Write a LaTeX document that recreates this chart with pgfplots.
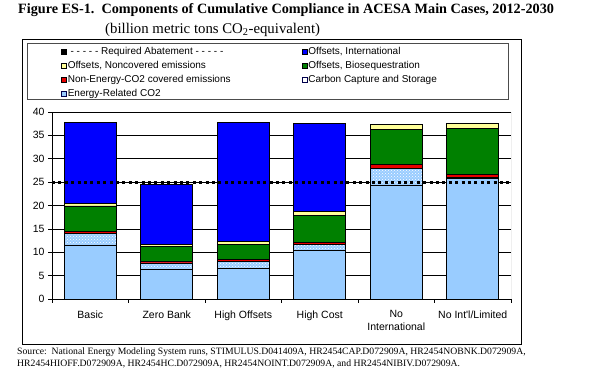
\documentclass[border=0pt]{standalone}
\usepackage{fontspec}
\setmainfont{Liberation Serif}
\newfontfamily\arial{Liberation Sans}
\usepackage{pgfplots}
\pgfplotsset{compat=1.18}
\usetikzlibrary{patterns}
\definecolor{eco2}{RGB}{153,204,255}
\definecolor{nonen}{RGB}{230,0,0}
\definecolor{bio}{RGB}{0,128,0}
\definecolor{noncov}{RGB}{255,255,153}
\definecolor{intl}{RGB}{0,0,255}
\begin{document}
\begin{tikzpicture}
\path (0pt,0pt) rectangle (600pt,382pt);
\draw[black, line width=0.9pt] (22pt,343pt) rectangle (521pt,38pt);
\draw[gray!60!black, line width=0.9pt] (27pt,339pt) rectangle (508pt,283pt);
\node[anchor=base west, inner sep=0pt, font=\bfseries\fontsize{14.2}{16}\selectfont] at (18pt,368.5pt) {Figure ES-1.\ \ Components of Cumulative Compliance in ACESA Main Cases, 2012-2030};
\node[anchor=base west, inner sep=0pt, font=\fontsize{14.8}{16}\selectfont] at (105pt,348.5pt) {(billion metric tons CO\textsubscript{2}-equivalent)};
\node[anchor=base west, inner sep=0pt, font=\fontsize{9.7}{12}\selectfont] at (17pt,27pt) {Source:\ \ National Energy Modeling System runs, STIMULUS.D041409A, HR2454CAP.D072909A, HR2454NOBNK.D072909A,};
\node[anchor=base west, inner sep=0pt, font=\fontsize{9.7}{12}\selectfont] at (17pt,15pt) {HR2454HIOFF.D072909A, HR2454HC.D072909A, HR2454NOINT.D072909A, and HR2454NIBIV.D072909A.};
\begin{axis}[
  at={(52pt,83pt)}, anchor=south west,
  width=459pt, height=187pt, scale only axis,
  ybar stacked, bar width=0.68,
  xmin=-0.5, xmax=5.5, ymin=0, ymax=40,
  ytick={0,5,...,40},
  xtick={-0.5,0.5,...,5.5}, xticklabels={},
  extra x ticks={0,1,2,3,4,5},
  extra x tick labels={{Basic},{Zero Bank},{High Offsets},{High Cost},{No\\International},{No Int'l/Limited}},
  extra x tick style={major tick length=0pt, tick label style={yshift=-8pt}},
  ymajorgrids, grid style={black, line width=0.5pt},
  axis x line*=bottom, axis y line*=left,
  axis line style={black, line width=0.6pt, -},
  tick align=outside, major tick length=4pt,
  tick style={black, line width=0.6pt},
  tick label style={font=\arial\fontsize{10.5}{12.5}\selectfont, align=center},
  /pgf/number format/assume math mode=true,
]
\addplot[fill=eco2, draw=black, line width=0.6pt] coordinates {(0,11.4)(1,6.4)(2,6.6)(3,10.5)(4,24.3)(5,25.8)};
\addplot[fill=eco2, draw=black, line width=0.6pt, postaction={pattern=crosshatch dots, pattern color=white}] coordinates {(0,2.6)(1,1.3)(2,1.4)(3,1.1)(4,3.7)(5,0.2)};
\addplot[fill=nonen, draw=black, line width=0.6pt] coordinates {(0,0.5)(1,0.3)(2,0.4)(3,0.5)(4,0.75)(5,0.7)};
\addplot[fill=bio, draw=black, line width=0.6pt] coordinates {(0,5.4)(1,3.2)(2,3.3)(3,5.7)(4,7.55)(5,9.8)};
\addplot[fill=noncov, draw=black, line width=0.6pt] coordinates {(0,0.6)(1,0.5)(2,0.6)(3,0.9)(4,1.0)(5,1.1)};
\addplot[fill=intl, draw=black, line width=0.6pt] coordinates {(0,17.2)(1,12.8)(2,25.4)(3,18.8)(4,0)(5,0)};
\draw[gray, line width=0.6pt] (rel axis cs:1,0) -- (rel axis cs:1,1);
\end{axis}
\begin{axis}[
  at={(52pt,83pt)}, anchor=south west,
  width=459pt, height=187pt, scale only axis,
  xmin=-0.5, xmax=5.5, ymin=0, ymax=40,
  hide axis, clip=false,
  legend columns=2,
  legend cell align=left,
  legend style={at={(axis description cs:0.0196,1.355)}, anchor=north west,
    draw=none, fill=none, inner sep=0pt,
    font=\arial\fontsize{10}{12}\selectfont,
    nodes={inner sep=1.2pt, text height=7.3pt, text depth=2pt},
    row sep=2.2pt,
    /tikz/every even column/.append style={column sep=70pt}},
]
\addplot[black, line width=3pt, dash pattern=on 3pt off 3.4pt, forget plot] coordinates {(-0.5,24.9)(5.5,24.9)};
\addlegendimage{legend image code/.code={\fill[black] (0pt,-2.5pt) rectangle (4.5pt,2.5pt);}}
\addlegendentry{\ - - - - - Required Abatement - - - - -}
\addlegendimage{legend image code/.code={\draw[fill=intl, draw=black] (0pt,-2.5pt) rectangle (5pt,2.5pt);}}
\addlegendentry{Offsets, International}
\addlegendimage{legend image code/.code={\draw[fill=noncov, draw=black] (0pt,-2.5pt) rectangle (5pt,2.5pt);}}
\addlegendentry{Offsets, Noncovered emissions}
\addlegendimage{legend image code/.code={\draw[fill=bio, draw=black] (0pt,-2.5pt) rectangle (5pt,2.5pt);}}
\addlegendentry{Offsets, Biosequestration}
\addlegendimage{legend image code/.code={\draw[fill=nonen, draw=black] (0pt,-2.5pt) rectangle (5pt,2.5pt);}}
\addlegendentry{Non-Energy-CO2 covered emissions}
\addlegendimage{legend image code/.code={\draw[fill=white, draw=black!70!blue] (0pt,-2.5pt) rectangle (5pt,2.5pt);}}
\addlegendentry{Carbon Capture and Storage}
\addlegendimage{legend image code/.code={\draw[fill=eco2, draw=black!70!blue] (0pt,-2.5pt) rectangle (5pt,2.5pt);}}
\addlegendentry{Energy-Related CO2}
\end{axis}
\end{tikzpicture}
\end{document}
